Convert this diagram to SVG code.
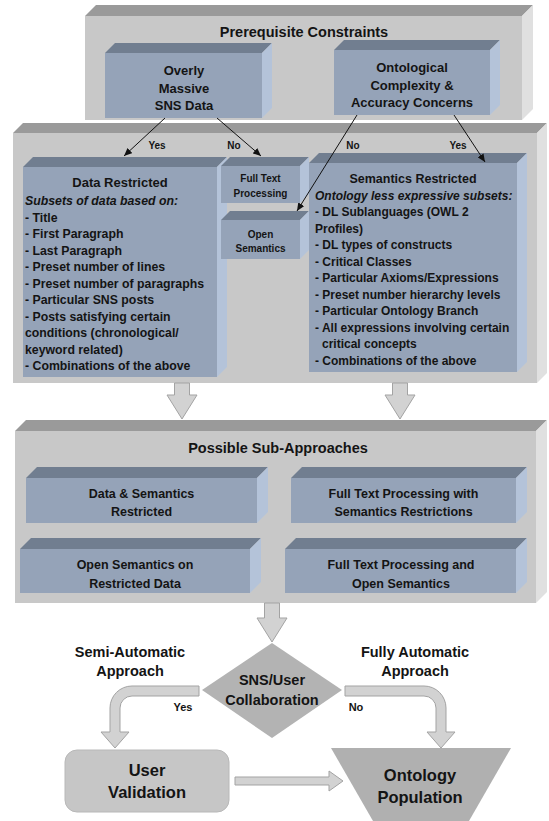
<svg xmlns="http://www.w3.org/2000/svg" width="549" height="821" viewBox="0 0 549 821">
<style>
.pf{fill:#c8c8c8}.pt{fill:#9a9a9a}.ps{fill:#e0e0e0}
.bf{fill:#95a3b8}.bt{fill:#717e90}.bs{fill:#b4c3d9}
.t{font-family:"Liberation Sans",Arial,sans-serif;font-weight:bold;fill:#141414}
.c{text-anchor:middle}
.i{font-style:italic}
.ln{stroke:#111;stroke-width:1;fill:none}
.ba{fill:#d2d2d2;stroke:#a3a3a3;stroke-width:1}
</style>
<defs>
<marker id="ah" markerUnits="userSpaceOnUse" markerWidth="8" markerHeight="7" refX="8" refY="3.5" orient="auto">
<path d="M0,0 L8,3.5 L0,7 z" fill="#111"/>
</marker>
</defs>
<rect width="549" height="821" fill="#fff"/>

<g id="prerequisite">
<rect class="pf" x="85" y="16" width="437" height="104"/>
<polygon class="pt" points="85,16 96,5 533,5 522,16"/>
<polygon class="ps" points="522,16 533,5 533,109 522,120"/>
<text class="t c" x="304" y="37" font-size="14.5">Prerequisite Constraints</text>
</g>
<g id="overly">
<rect class="bf" x="105" y="53" width="157" height="65"/>
<polygon class="bt" points="105,53 115,43 272,43 262,53"/>
<polygon class="bs" points="262,53 272,43 272,108 262,118"/>
<text class="t c" font-size="13" x="184"><tspan x="184" y="75">Overly</tspan><tspan x="184" y="92.5">Massive</tspan><tspan x="184" y="110">SNS Data</tspan></text>
</g>
<g id="ontological">
<rect class="bf" x="334" y="50" width="156" height="65"/>
<polygon class="bt" points="334,50 344,40 500,40 490,50"/>
<polygon class="bs" points="490,50 500,40 500,105 490,115"/>
<text class="t c" font-size="13" x="412"><tspan x="412" y="72">Ontological</tspan><tspan x="412" y="89.5">Complexity &amp;</tspan><tspan x="412" y="107">Accuracy Concerns</tspan></text>
</g>

<g id="restrictions-panel">
<rect class="pf" x="13" y="133" width="524" height="250"/>
<polygon class="pt" points="13,133 23,123 547,123 537,133"/>
<polygon class="ps" points="537,133 547,123 547,373 537,383"/>
</g>
<g id="data-restricted">
<rect class="bf" x="23" y="167" width="194" height="210"/>
<polygon class="bt" points="23,167 33,157 227,157 217,167"/>
<polygon class="bs" points="217,167 227,157 227,367 217,377"/>
<text class="t c" x="120" y="187" font-size="13">Data Restricted</text>
<text class="t" font-size="12.3" x="25">
<tspan class="i" x="25" y="205">Subsets of data based on:</tspan>
<tspan x="25" y="221.5">- Title</tspan>
<tspan x="25" y="238">- First Paragraph</tspan>
<tspan x="25" y="254.5">- Last Paragraph</tspan>
<tspan x="25" y="271">- Preset number of lines</tspan>
<tspan x="25" y="287.5">- Preset number of paragraphs</tspan>
<tspan x="25" y="304">- Particular SNS posts</tspan>
<tspan x="25" y="320.5">- Posts satisfying certain</tspan>
<tspan x="25" y="337">conditions (chronological/</tspan>
<tspan x="25" y="353.5">keyword related)</tspan>
<tspan x="25" y="370">- Combinations of the above</tspan>
</text>
</g>
<g id="full-text">
<rect class="bf" x="221" y="166" width="79" height="37"/>
<polygon class="bt" points="221,166 230,157 309,157 300,166"/>
<polygon class="bs" points="300,166 309,157 309,194 300,203"/>
<text class="t c" font-size="10"><tspan x="260.5" y="181.5">Full Text</tspan><tspan x="260.5" y="196.5">Processing</tspan></text>
</g>
<g id="open-semantics">
<rect class="bf" x="221" y="220" width="79" height="39"/>
<polygon class="bt" points="221,220 230,211 309,211 300,220"/>
<polygon class="bs" points="300,220 309,211 309,250 300,259"/>
<text class="t c" font-size="10"><tspan x="260.5" y="237.5">Open</tspan><tspan x="260.5" y="251.5">Semantics</tspan></text>
</g>
<g id="semantics-restricted">
<rect class="bf" x="309" y="163" width="208" height="209"/>
<polygon class="bt" points="309,163 319,153 527,153 517,163"/>
<polygon class="bs" points="517,163 527,153 527,362 517,372"/>
<text class="t c" x="413" y="182.5" font-size="12.5">Semantics Restricted</text>
<text class="t" font-size="12">
<tspan class="i" x="315" y="199.5">Ontology less expressive subsets:</tspan>
<tspan x="315" y="216">- DL Sublanguages (OWL 2</tspan>
<tspan x="315" y="232.5">Profiles)</tspan>
<tspan x="315" y="249">- DL types of constructs</tspan>
<tspan x="315" y="265.5">- Critical Classes</tspan>
<tspan x="315" y="282">- Particular Axioms/Expressions</tspan>
<tspan x="315" y="298.5">- Preset number hierarchy levels</tspan>
<tspan x="315" y="315">- Particular Ontology Branch</tspan>
<tspan x="315" y="331.5">- All expressions involving certain</tspan>
<tspan x="322" y="348">critical concepts</tspan>
<tspan x="315" y="364.5">- Combinations of the above</tspan>
</text>
</g>

<g id="sub-approaches-panel">
<rect class="pf" x="15" y="431" width="521" height="172"/>
<polygon class="pt" points="15,431 26,420 547,420 536,431"/>
<polygon class="ps" points="536,431 547,420 547,592 536,603"/>
<text class="t c" x="278" y="453" font-size="14.5">Possible Sub-Approaches</text>
</g>
<g id="sub1">
<rect class="bf" x="26" y="478" width="231" height="45"/>
<polygon class="bt" points="26,478 37,467 268,467 257,478"/>
<polygon class="bs" points="257,478 268,467 268,512 257,523"/>
<text class="t c" font-size="12.5"><tspan x="141.5" y="497.5">Data &amp; Semantics</tspan><tspan x="141.5" y="515.5">Restricted</tspan></text>
</g>
<g id="sub2">
<rect class="bf" x="291" y="478" width="225" height="45"/>
<polygon class="bt" points="291,478 302,467 527,467 516,478"/>
<polygon class="bs" points="516,478 527,467 527,512 516,523"/>
<text class="t c" font-size="12.5"><tspan x="403.5" y="497.5">Full Text Processing with</tspan><tspan x="403.5" y="515.5">Semantics Restrictions</tspan></text>
</g>
<g id="sub3">
<rect class="bf" x="20" y="549" width="230" height="44"/>
<polygon class="bt" points="20,549 31,538 261,538 250,549"/>
<polygon class="bs" points="250,549 261,538 261,582 250,593"/>
<text class="t c" font-size="12.5"><tspan x="135" y="568.5">Open Semantics on</tspan><tspan x="135" y="587.5">Restricted Data</tspan></text>
</g>
<g id="sub4">
<rect class="bf" x="285" y="549" width="231" height="44"/>
<polygon class="bt" points="285,549 296,538 527,538 516,549"/>
<polygon class="bs" points="516,549 527,538 527,582 516,593"/>
<text class="t c" font-size="12.5"><tspan x="401" y="568.5">Full Text Processing and</tspan><tspan x="401" y="587.5">Open Semantics</tspan></text>
</g>

<g id="collaboration">
<polygon points="272,643 342,690 272,738 202,690" fill="#b3b3b3"/>
<text class="t c" font-size="14.5"><tspan x="272" y="685">SNS/User</tspan><tspan x="272" y="705">Collaboration</tspan></text>
</g>
<g id="user-validation">
<rect x="65" y="750" width="164" height="62" rx="12" fill="#c6c6c6" stroke="#b8b8b8"/>
<text class="t c" font-size="16.5"><tspan x="147" y="776">User</tspan><tspan x="147" y="798">Validation</tspan></text>
</g>
<g id="ontology-population">
<polygon points="331,748 511,748 469,821 373,821" fill="#b0b0b0"/>
<text class="t c" font-size="16.5"><tspan x="420" y="781">Ontology</tspan><tspan x="420" y="803">Population</tspan></text>
</g>

<g id="connectors">
<line class="ln" x1="165" y1="118" x2="124" y2="156" marker-end="url(#ah)"/>
<line class="ln" x1="217" y1="118" x2="261" y2="156" marker-end="url(#ah)"/>
<line class="ln" x1="357" y1="115" x2="297" y2="211" marker-end="url(#ah)"/>
<line class="ln" x1="454" y1="115" x2="485" y2="162" marker-end="url(#ah)"/>
<text class="t c" font-size="10" x="157" y="148.5">Yes</text>
<text class="t c" font-size="10" x="234" y="148.5">No</text>
<text class="t c" font-size="10" x="353" y="148.5">No</text>
<text class="t c" font-size="10" x="458" y="148.5">Yes</text>

<path class="ba" d="M174.5,383 L189.5,383 L189.5,395 L197,395 L182,419 L167,395 L174.5,395 Z"/>
<path class="ba" d="M392.5,383 L407.5,383 L407.5,395 L415,395 L400,419 L385,395 L392.5,395 Z"/>
<path class="ba" d="M264.5,603 L279.5,603 L279.5,618 L287,618 L272,642 L257,618 L264.5,618 Z"/>

<path class="ba" d="M199,686 L132,686 A22,22 0 0 0 110,708 L110,732 L101,732 L115,748 L129,732 L120,732 L120,708 A12,12 0 0 1 132,696 L199,696 Z"/>
<path class="ba" d="M345,686 L424,686 A22,22 0 0 1 446,708 L446,732 L455,732 L441,748 L427,732 L436,732 L436,708 A12,12 0 0 0 424,696 L345,696 Z"/>
<path class="ba" d="M235,777 L329,777 L329,771 L343,781 L329,791 L329,785 L235,785 Z"/>

<text class="t c" font-size="14.5"><tspan x="130" y="657">Semi-Automatic</tspan><tspan x="130" y="676">Approach</tspan></text>
<text class="t c" font-size="14.5"><tspan x="415" y="657">Fully Automatic</tspan><tspan x="415" y="676">Approach</tspan></text>
<text class="t c" font-size="11" x="183" y="711">Yes</text>
<text class="t c" font-size="11" x="356" y="711">No</text>
</g>
</svg>
